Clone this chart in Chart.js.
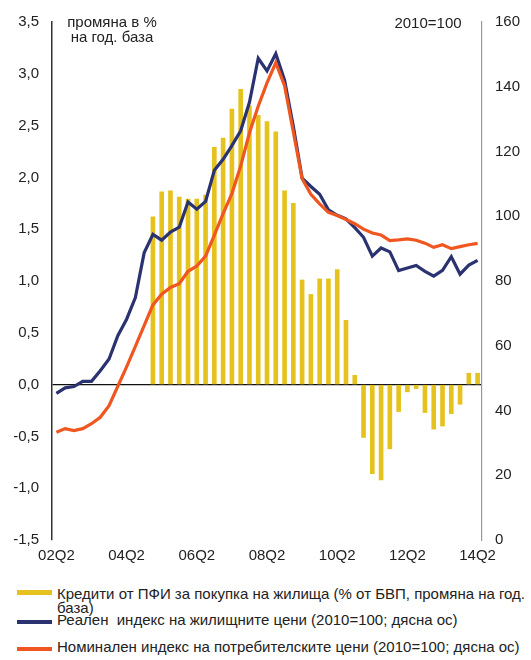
<!DOCTYPE html>
<html>
<head>
<meta charset="utf-8">
<script src="https://cdn.jsdelivr.net/npm/chart.js@4/dist/chart.umd.min.js"></script>
<style>
  html, body { margin: 0; padding: 0; background: #fff; }
  body { width: 531px; height: 660px; position: relative; overflow: hidden;
         font-family: "Liberation Sans", Arial, sans-serif; color: #222; }
  #wrap { position: absolute; left: 0; top: 0; width: 531px; height: 570px; }
  .note { position: absolute; font-size: 15px; line-height: 15px; text-align: center; white-space: nowrap; }
  .sw { position: absolute; left: 17px; width: 35px; }
  .lt { position: absolute; left: 57px; white-space: nowrap; font-size: 15px; line-height: 14px; }
</style>
</head>
<body>
<div id="wrap"><canvas id="c" width="531" height="570"></canvas></div>
<div class="note" style="left:52px; top:14px; width:120px;">промяна в %<br>на год. база</div>
<div class="note" style="left:378px; top:15px; width:100px;">2010=100</div>

<div class="sw" style="top:590px; height:5px; background:#E6C21F;"></div>
<div class="lt" style="top:587px;">Кредити от ПФИ за покупка на жилища (% от БВП, промяна на год.<br>база)</div>
<div class="sw" style="top:620px; height:4px; background:#2A3270;"></div>
<div class="lt" style="top:613px;">Реален&nbsp; индекс на жилищните цени (2010=100; дясна ос)</div>
<div class="sw" style="top:647px; height:4px; background:#F0561F;"></div>
<div class="lt" style="top:640px;">Номинален индекс на потребителските цени (2010=100; дясна ос)</div>

<script>
// Categories (quarters)
const quarters = [
  '02Q2','02Q3','02Q4','03Q1','03Q2','03Q3','03Q4','04Q1','04Q2','04Q3','04Q4','05Q1',
  '05Q2','05Q3','05Q4','06Q1','06Q2','06Q3','06Q4','07Q1','07Q2','07Q3','07Q4','08Q1',
  '08Q2','08Q3','08Q4','09Q1','09Q2','09Q3','09Q4','10Q1','10Q2','10Q3','10Q4','11Q1',
  '11Q2','11Q3','11Q4','12Q1','12Q2','12Q3','12Q4','13Q1','13Q2','13Q3','13Q4','14Q1','14Q2'
];
// Shown x tick labels
const xTickLabels = ['02Q2','04Q2','06Q2','08Q2','10Q2','12Q2','14Q2'];

// Credits from MFIs for house purchases (% of GDP, y/y change) - left axis
const credits = [
  null, null, null, null, null, null, null, null, null, null, null, 1.62,
  1.86, 1.87, 1.81, 1.79, 1.79, 1.83, 2.29, 2.38, 2.66, 2.85, 2.69, 2.60,
  2.54, 2.44, 1.87, 1.75, 1.01, 0.87, 1.02, 1.02, 1.11, 0.62, 0.09, -0.51,
  -0.86, -0.92, -0.62, -0.26, -0.07, -0.04, -0.27, -0.43, -0.40, -0.28, -0.19, 0.11, 0.11
];

// Real house price index (2010=100, right axis)
const realHousePrices = [
  45.3, 47.0, 47.4, 49.0, 49.0, 52.3, 55.9, 63.1, 68.2, 74.9, 88.7, 94.4,
  92.6, 95.1, 96.6, 104.4, 102.2, 104.6, 114.2, 117.6, 121.8, 126.4, 135.2, 148.8,
  144.9, 150.2, 142.0, 127.8, 111.8, 109.2, 106.8, 102.0, 100.3, 99.2, 96.5, 93.5,
  87.7, 90.2, 89.0, 83.2, 84.0, 84.8, 83.0, 81.5, 83.3, 87.5, 82.1, 84.9, 86.4
];

// Nominal consumer price index (2010=100, right axis)
const cpiNominal = [
  33.3, 34.4, 33.8, 34.4, 35.9, 37.9, 41.5, 47.5, 53.5, 59.8, 66.2, 72.6,
  75.9, 78.0, 79.2, 83.0, 84.6, 87.7, 94.2, 100.8, 107.0, 115.5, 125.8, 134.0,
  141.2, 147.4, 140.3, 126.0, 111.6, 106.8, 103.8, 101.2, 100.2, 99.0, 97.7, 96.0,
  94.8, 94.2, 92.5, 92.7, 93.0, 92.6, 91.7, 90.4, 91.2, 90.0, 90.6, 91.2, 91.6
];

const leftTicks = [-1.5, -1.0, -0.5, 0.0, 0.5, 1.0, 1.5, 2.0, 2.5, 3.0, 3.5];
const rightTicks = [0, 20, 40, 60, 80, 100, 120, 140, 160];

Chart.defaults.font.family = '"Liberation Sans", Arial, sans-serif';
Chart.defaults.font.size = 15;
Chart.defaults.color = '#222';

new Chart(document.getElementById('c'), {
  type: 'bar',
  data: {
    labels: quarters,
    datasets: [
      {
        type: 'line',
        label: 'Номинален индекс на потребителските цени',
        data: cpiNominal,
        yAxisID: 'y1',
        borderColor: '#F0561F',
        borderWidth: 3.2,
        pointRadius: 0,
        tension: 0,
        order: 1
      },
      {
        type: 'line',
        label: 'Реален индекс на жилищните цени',
        data: realHousePrices,
        yAxisID: 'y1',
        borderColor: '#2A3270',
        borderWidth: 3.2,
        pointRadius: 0,
        tension: 0,
        order: 2
      },
      {
        type: 'bar',
        label: 'Кредити от ПФИ за покупка на жилища',
        data: credits,
        yAxisID: 'y',
        backgroundColor: '#E6C21F',
        barThickness: 4,
        order: 3
      }
    ]
  },
  options: {
    responsive: false,
    animation: false,
    layout: { padding: { top: 20, left: 0, right: 0, bottom: 0 } },
    plugins: { legend: { display: false }, tooltip: { enabled: false } },
    scales: {
      x: {
        offset: true,
        grid: { display: false, drawTicks: false },
        border: { display: false },
        ticks: {
          autoSkip: false,
          maxRotation: 0,
          padding: 7,
          callback: function (v, i) {
            const q = quarters[i];
            return xTickLabels.includes(q) ? q : '';
          }
        },
        afterFit: function (s) { s.height = 30; }
      },
      y: {
        position: 'left',
        min: -1.5,
        max: 3.5,
        afterBuildTicks: function (s) { s.ticks = leftTicks.map(v => ({ value: v })); },
        grid: {
          drawTicks: false,
          color: ctx => (ctx.tick && ctx.tick.value === 0) ? '#111' : 'rgba(0,0,0,0)',
          lineWidth: 1.3
        },
        border: { color: '#333', width: 1.5 },
        ticks: {
          padding: 13,
          callback: v => v.toFixed(1).replace('.', ',')
        },
        afterFit: function (s) { s.width = 52; }
      },
      y1: {
        position: 'right',
        min: 0,
        max: 160,
        afterBuildTicks: function (s) { s.ticks = rightTicks.map(v => ({ value: v })); },
        grid: { display: false, drawTicks: false },
        border: { color: '#999', width: 1.2 },
        ticks: { padding: 13 },
        afterFit: function (s) { s.width = 49; }
      }
    }
  }
});
</script>
</body>
</html>
